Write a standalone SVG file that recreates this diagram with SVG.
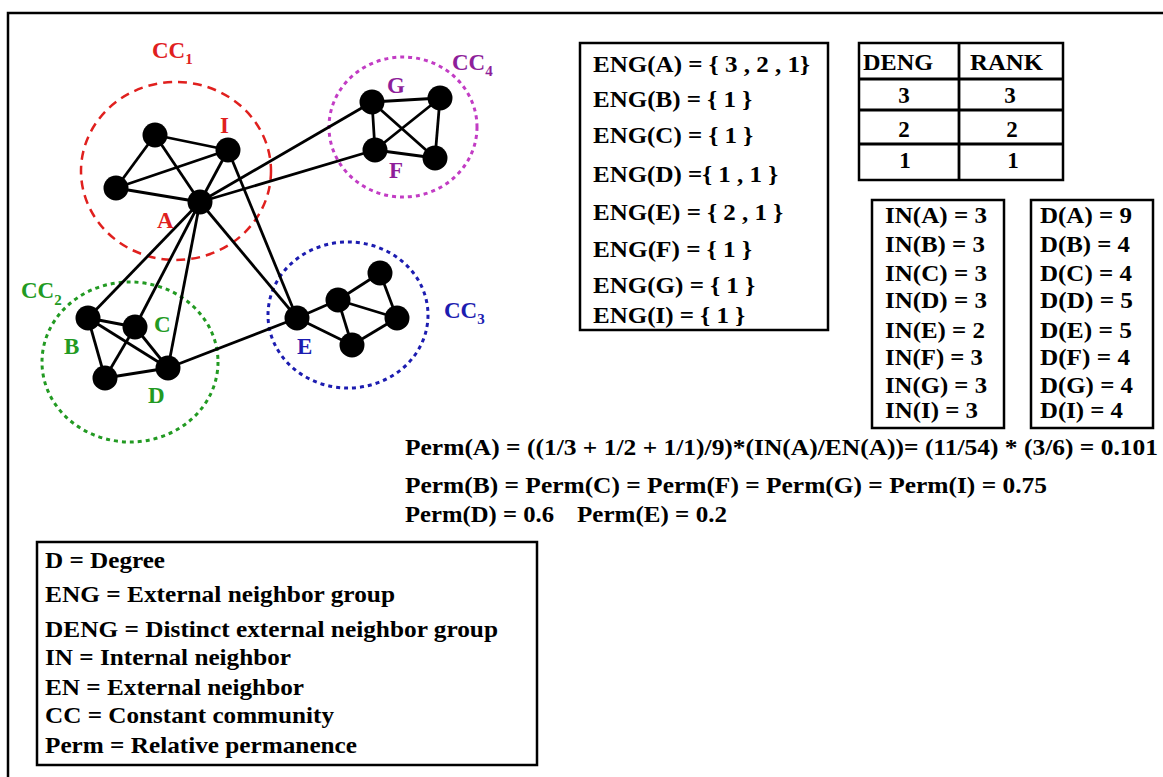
<svg xmlns="http://www.w3.org/2000/svg" width="1163" height="777" viewBox="0 0 1163 777">
<style>
.t{font-family:"Liberation Serif","Times New Roman",serif;font-weight:bold;font-size:23px;fill:#000}
.lbl{font-family:"Liberation Serif","Times New Roman",serif;font-weight:bold;font-size:23px}
.sub{font-size:15px}
.box{fill:none;stroke:#000;stroke-width:2.5}
.node{fill:#000}
.edge{stroke:#000;stroke-width:2.8;fill:none}
.red{fill:#e0201e}.grn{fill:#229a22}.blu{fill:#1c1cb0}.pur{fill:#8e1e9a}
</style>
<rect x="0" y="0" width="1163" height="777" fill="#fff"/>
<rect x="8" y="13" width="1170" height="780" class="box" stroke-width="2"/>

<g id="communities">
<g id="cc1">
<ellipse cx="176" cy="171" rx="95" ry="89" fill="none" stroke="#e0201e" stroke-width="2.5" stroke-dasharray="9,6"/>
<text class="lbl red" x="152" y="58">CC<tspan class="sub" dy="6">1</tspan></text>
</g>
<g id="cc2">
<ellipse cx="130" cy="362" rx="88" ry="80" fill="none" stroke="#229a22" stroke-width="3" stroke-dasharray="4,4"/>
<text class="lbl grn" x="21" y="298">CC<tspan class="sub" dy="7">2</tspan></text>
</g>
<g id="cc3">
<ellipse cx="348" cy="315" rx="80" ry="73" fill="none" stroke="#1c1cb0" stroke-width="3" stroke-dasharray="4,4"/>
<text class="lbl blu" x="444" y="318">CC<tspan class="sub" dy="6">3</tspan></text>
</g>
<g id="cc4">
<ellipse cx="403" cy="127" rx="74" ry="70" fill="none" stroke="#c23cc4" stroke-width="3" stroke-dasharray="4,4"/>
<text class="lbl pur" x="452" y="70">CC<tspan class="sub" dy="6">4</tspan></text>
</g>
</g>

<g id="edges">
<line class="edge" x1="155" y1="135" x2="228" y2="150"/>
<line class="edge" x1="155" y1="135" x2="116" y2="188"/>
<line class="edge" x1="155" y1="135" x2="200" y2="202"/>
<line class="edge" x1="116" y1="188" x2="228" y2="150"/>
<line class="edge" x1="116" y1="188" x2="200" y2="202"/>
<line class="edge" x1="228" y1="150" x2="200" y2="202" stroke-width="1.6"/>
<line class="edge" x1="200" y1="202" x2="372" y2="102"/>
<line class="edge" x1="200" y1="202" x2="375" y2="150"/>
<line class="edge" x1="228" y1="150" x2="297" y2="318"/>
<line class="edge" x1="200" y1="202" x2="297" y2="318"/>
<line class="edge" x1="200" y1="202" x2="88" y2="318"/>
<line class="edge" x1="200" y1="202" x2="135" y2="327"/>
<line class="edge" x1="200" y1="202" x2="168" y2="368"/>
<line class="edge" x1="168" y1="368" x2="297" y2="318"/>
<line class="edge" x1="372" y1="102" x2="440" y2="98"/>
<line class="edge" x1="372" y1="102" x2="375" y2="150"/>
<line class="edge" x1="372" y1="102" x2="435" y2="158"/>
<line class="edge" x1="440" y1="98" x2="375" y2="150"/>
<line class="edge" x1="440" y1="98" x2="435" y2="158"/>
<line class="edge" x1="375" y1="150" x2="435" y2="158"/>
<line class="edge" x1="88" y1="318" x2="135" y2="327"/>
<line class="edge" x1="88" y1="318" x2="105" y2="378"/>
<line class="edge" x1="88" y1="318" x2="168" y2="368"/>
<line class="edge" x1="135" y1="327" x2="105" y2="378"/>
<line class="edge" x1="135" y1="327" x2="168" y2="368"/>
<line class="edge" x1="105" y1="378" x2="168" y2="368"/>
<line class="edge" x1="297" y1="318" x2="338" y2="300"/>
<line class="edge" x1="297" y1="318" x2="352" y2="345"/>
<line class="edge" x1="338" y1="300" x2="380" y2="273"/>
<line class="edge" x1="338" y1="300" x2="397" y2="318"/>
<line class="edge" x1="338" y1="300" x2="352" y2="345"/>
<line class="edge" x1="380" y1="273" x2="397" y2="318"/>
<line class="edge" x1="397" y1="318" x2="352" y2="345"/>
</g>

<g id="node-n1"><circle class="node" cx="155" cy="135" r="12.5"/></g>
<g id="node-I"><circle class="node" cx="228" cy="150" r="12.5"/><text class="lbl red" x="220" y="133">I</text></g>
<g id="node-n3"><circle class="node" cx="116" cy="188" r="12.5"/></g>
<g id="node-A"><circle class="node" cx="200" cy="202" r="12.5"/><text class="lbl red" x="157" y="228">A</text></g>
<g id="node-G"><circle class="node" cx="372" cy="102" r="12.5"/><text class="lbl pur" x="387" y="93">G</text></g>
<g id="node-g2"><circle class="node" cx="440" cy="98" r="12.5"/></g>
<g id="node-F"><circle class="node" cx="375" cy="150" r="12.5"/><text class="lbl pur" x="389" y="178">F</text></g>
<g id="node-f2"><circle class="node" cx="435" cy="158" r="12.5"/></g>
<g id="node-B"><circle class="node" cx="88" cy="318" r="12.5"/><text class="lbl grn" x="64" y="354">B</text></g>
<g id="node-C"><circle class="node" cx="135" cy="327" r="12.5"/><text class="lbl grn" x="154" y="332">C</text></g>
<g id="node-b2"><circle class="node" cx="105" cy="378" r="12.5"/></g>
<g id="node-D"><circle class="node" cx="168" cy="368" r="12.5"/><text class="lbl grn" x="148" y="403">D</text></g>
<g id="node-E"><circle class="node" cx="297" cy="318" r="12.5"/><text class="lbl blu" x="297" y="354">E</text></g>
<g id="node-e2"><circle class="node" cx="338" cy="300" r="12.5"/></g>
<g id="node-e3"><circle class="node" cx="380" cy="273" r="12.5"/></g>
<g id="node-e4"><circle class="node" cx="397" cy="318" r="12.5"/></g>
<g id="node-e5"><circle class="node" cx="352" cy="345" r="12.5"/></g>

<g id="eng-box">
<rect class="box" x="580" y="43" width="248" height="287"/>
<text class="t" x="593" y="72" textLength="217" lengthAdjust="spacingAndGlyphs">ENG(A) = { 3 , 2 , 1}</text>
<text class="t" x="593" y="107" textLength="159" lengthAdjust="spacingAndGlyphs">ENG(B) = { 1 }</text>
<text class="t" x="593" y="143" textLength="160" lengthAdjust="spacingAndGlyphs">ENG(C) = { 1 }</text>
<text class="t" x="593" y="182" textLength="185" lengthAdjust="spacingAndGlyphs">ENG(D) ={ 1 , 1 }</text>
<text class="t" x="593" y="220" textLength="190" lengthAdjust="spacingAndGlyphs">ENG(E) = { 2 , 1 }</text>
<text class="t" x="593" y="257" textLength="159" lengthAdjust="spacingAndGlyphs">ENG(F) = { 1 }</text>
<text class="t" x="593" y="293" textLength="162" lengthAdjust="spacingAndGlyphs">ENG(G) = { 1 }</text>
<text class="t" x="593" y="323" textLength="152" lengthAdjust="spacingAndGlyphs">ENG(I) = { 1 }</text>
</g>

<g id="deng-table">
<rect class="box" x="859" y="43" width="204" height="137"/>
<line class="edge" x1="959" y1="43" x2="959" y2="180" stroke-width="2.5"/>
<line class="edge" x1="859" y1="79" x2="1063" y2="79" stroke-width="2.5"/>
<line class="edge" x1="859" y1="110" x2="1063" y2="110" stroke-width="2.5"/>
<line class="edge" x1="859" y1="144" x2="1063" y2="144" stroke-width="2.5"/>
<text class="t" x="863" y="70" textLength="70" lengthAdjust="spacingAndGlyphs">DENG</text>
<text class="t" x="970" y="70" textLength="73" lengthAdjust="spacingAndGlyphs">RANK</text>
<text class="t" x="904" y="103" text-anchor="middle">3</text>
<text class="t" x="1010" y="103" text-anchor="middle">3</text>
<text class="t" x="904" y="137" text-anchor="middle">2</text>
<text class="t" x="1012" y="137" text-anchor="middle">2</text>
<text class="t" x="905" y="168" text-anchor="middle">1</text>
<text class="t" x="1013" y="168" text-anchor="middle">1</text>
</g>

<g id="in-box">
<rect class="box" x="872" y="200" width="132" height="228"/>
<text class="t" x="885" y="223" textLength="102" lengthAdjust="spacingAndGlyphs">IN(A) = 3</text>
<text class="t" x="885" y="252" textLength="100" lengthAdjust="spacingAndGlyphs">IN(B) = 3</text>
<text class="t" x="885" y="281" textLength="102" lengthAdjust="spacingAndGlyphs">IN(C) = 3</text>
<text class="t" x="885" y="308" textLength="102" lengthAdjust="spacingAndGlyphs">IN(D) = 3</text>
<text class="t" x="885" y="338" textLength="100" lengthAdjust="spacingAndGlyphs">IN(E) = 2</text>
<text class="t" x="885" y="365" textLength="98" lengthAdjust="spacingAndGlyphs">IN(F) = 3</text>
<text class="t" x="885" y="393" textLength="102" lengthAdjust="spacingAndGlyphs">IN(G) = 3</text>
<text class="t" x="885" y="418" textLength="93" lengthAdjust="spacingAndGlyphs">IN(I) = 3</text>
</g>

<g id="d-box">
<rect class="box" x="1031" y="200" width="122" height="228"/>
<text class="t" x="1040" y="223" textLength="92" lengthAdjust="spacingAndGlyphs">D(A) = 9</text>
<text class="t" x="1040" y="252" textLength="90" lengthAdjust="spacingAndGlyphs">D(B) = 4</text>
<text class="t" x="1040" y="281" textLength="92" lengthAdjust="spacingAndGlyphs">D(C) = 4</text>
<text class="t" x="1040" y="308" textLength="93" lengthAdjust="spacingAndGlyphs">D(D) = 5</text>
<text class="t" x="1040" y="338" textLength="92" lengthAdjust="spacingAndGlyphs">D(E) = 5</text>
<text class="t" x="1040" y="365" textLength="90" lengthAdjust="spacingAndGlyphs">D(F) = 4</text>
<text class="t" x="1040" y="393" textLength="93" lengthAdjust="spacingAndGlyphs">D(G) = 4</text>
<text class="t" x="1040" y="418" textLength="83" lengthAdjust="spacingAndGlyphs">D(I) = 4</text>
</g>

<g id="perm">
<text class="t" x="405" y="455" textLength="753" lengthAdjust="spacingAndGlyphs">Perm(A) = ((1/3 + 1/2 + 1/1)/9)*(IN(A)/EN(A))= (11/54) * (3/6) = 0.101</text>
<text class="t" x="405" y="493" textLength="642" lengthAdjust="spacingAndGlyphs">Perm(B) = Perm(C) = Perm(F) = Perm(G) = Perm(I) = 0.75</text>
<text class="t" x="405" y="522" textLength="149" lengthAdjust="spacingAndGlyphs">Perm(D) = 0.6</text>
<text class="t" x="577" y="522" textLength="150" lengthAdjust="spacingAndGlyphs">Perm(E) = 0.2</text>
</g>

<g id="legend">
<rect class="box" x="37" y="542" width="500" height="223"/>
<text class="t" x="45" y="568" textLength="120" lengthAdjust="spacingAndGlyphs">D = Degree</text>
<text class="t" x="45" y="602" textLength="350" lengthAdjust="spacingAndGlyphs">ENG = External neighbor group</text>
<text class="t" x="45" y="637" textLength="453" lengthAdjust="spacingAndGlyphs">DENG = Distinct external neighbor group</text>
<text class="t" x="45" y="665" textLength="246" lengthAdjust="spacingAndGlyphs">IN = Internal neighbor</text>
<text class="t" x="45" y="695" textLength="259" lengthAdjust="spacingAndGlyphs">EN = External neighbor</text>
<text class="t" x="45" y="723" textLength="289" lengthAdjust="spacingAndGlyphs">CC = Constant community</text>
<text class="t" x="45" y="753" textLength="312" lengthAdjust="spacingAndGlyphs">Perm = Relative permanence</text>
</g>
</svg>
